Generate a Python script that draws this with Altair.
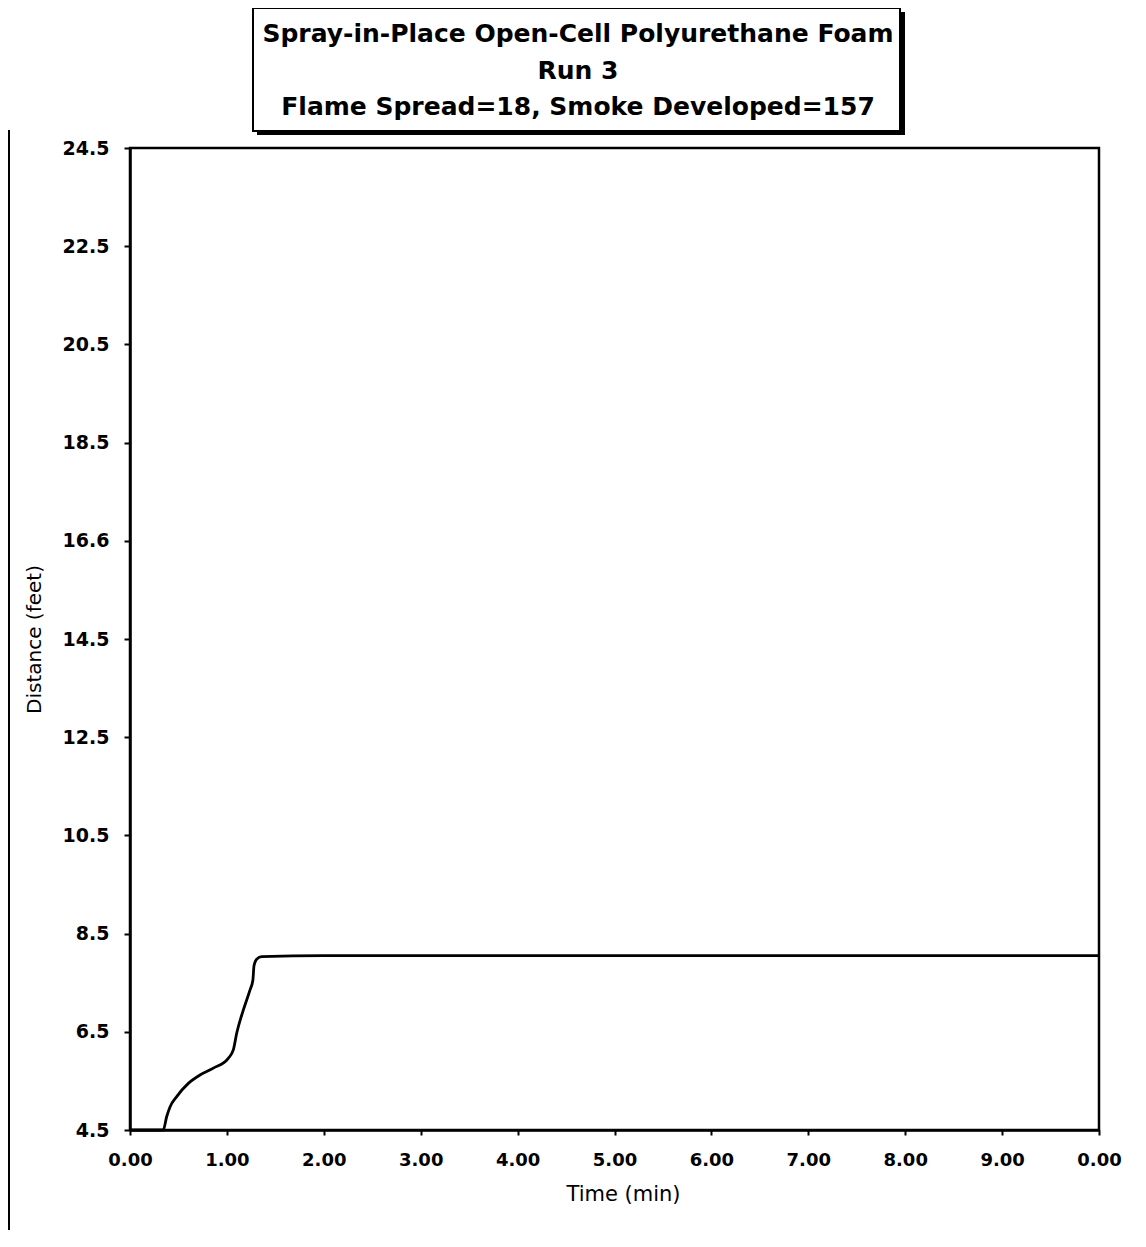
import altair as alt
import pandas as pd

# ---- data ----
title_lines = [
    "Spray-in-Place Open-Cell Polyurethane Foam",
    "Run 3",
    "Flame Spread=18, Smoke Developed=157",
]
time_min = [0.0, 0.344, 0.378, 0.413, 0.482, 0.602, 0.722, 0.860, 1.014, 1.066,
            1.101, 1.169, 1.238, 1.268, 1.280, 1.307, 1.359, 2.0, 10.0]
distance_ft = [4.5, 4.5, 4.77, 4.97, 5.18, 5.45, 5.62, 5.76, 5.96, 6.13,
               6.47, 6.94, 7.35, 7.55, 7.85, 7.98, 8.03, 8.05, 8.05]
x_ticks = [0, 1, 2, 3, 4, 5, 6, 7, 8, 9, 10]
x_tick_labels = ["0.00", "1.00", "2.00", "3.00", "4.00", "5.00", "6.00",
                 "7.00", "8.00", "9.00", "0.00"]
y_ticks = [4.5, 6.5, 8.5, 10.5, 12.5, 14.5, 16.5, 18.5, 20.5, 22.5, 24.5]
y_tick_labels = ["4.5", "6.5", "8.5", "10.5", "12.5", "14.5", "16.6",
                 "18.5", "20.5", "22.5", "24.5"]

df = pd.DataFrame({"t": time_min, "d": distance_ft})
one = pd.DataFrame({"k": [0]})

x_expr = "[" + ",".join("'%s'" % s for s in x_tick_labels) + "][round(datum.value)]"
y_expr = "[" + ",".join("'%s'" % s for s in y_tick_labels) + "][round((datum.value-4.5)/2)]"

FONT = "DejaVu Sans"

x_axis = alt.Axis(
    values=x_ticks, labelExpr=x_expr, title="Time (min)", grid=False,
    domainColor="black", domainWidth=2.5, tickColor="black", tickWidth=2, tickSize=5,
    labelFont=FONT, labelFontWeight="bold", labelFontSize=18, labelColor="black",
    labelPadding=16, labelFlush=False, labelOverlap=False,
    titleFont=FONT, titleFontWeight="normal", titleFontSize=21, titleColor="black",
    titlePadding=14, titleX=493,
)
y_axis = alt.Axis(
    values=y_ticks, labelExpr=y_expr, title="Distance (feet)", grid=False,
    domainColor="black", domainWidth=2.5, tickColor="black", tickWidth=2, tickSize=6,
    labelFont=FONT, labelFontWeight="bold", labelFontSize=19, labelColor="black",
    labelPadding=15, labelFlush=False, labelOverlap=False,
    titleFont=FONT, titleFontWeight="normal", titleFontSize=20, titleColor="black",
    titlePadding=18,
)

line = alt.Chart(df).mark_line(color="black", strokeWidth=2.8, interpolate="monotone").encode(
    x=alt.X("t:Q", scale=alt.Scale(domain=[0, 10], nice=False, zero=False), axis=x_axis),
    y=alt.Y("d:Q", scale=alt.Scale(domain=[4.5, 24.5], nice=False, zero=False), axis=y_axis),
)

shadow = alt.Chart(one).mark_rect(color="black").encode(
    x=alt.value(127), x2=alt.value(775), y=alt.value(-136), y2=alt.value(-13)
)
box = alt.Chart(one).mark_rect(fill="white", stroke="black", strokeWidth=2).encode(
    x=alt.value(123), x2=alt.value(770), y=alt.value(-140), y2=alt.value(-17)
)
title_y = [-106, -69, -33]
title_layers = [
    alt.Chart(one).mark_text(
        text=txt, font=FONT, fontWeight="bold", fontSize=25, color="black",
        align="center", baseline="alphabetic",
    ).encode(x=alt.value(448), y=alt.value(yy))
    for txt, yy in zip(title_lines, title_y)
]
page_edge = alt.Chart(one).mark_rule(color="black", strokeWidth=2).encode(
    x=alt.value(-121), y=alt.value(-18), y2=alt.value(1090)
)

chart = alt.layer(line, page_edge, shadow, box, *title_layers).properties(
    width=969, height=982,
    background="white",
    autosize=alt.AutoSizeParams(type="none"),
    padding={"left": 122, "top": 140, "right": 32, "bottom": 100},
).configure_view(stroke="black", strokeWidth=2.5)

chart.save("out.html", embed_options={"renderer": "svg", "actions": False})
